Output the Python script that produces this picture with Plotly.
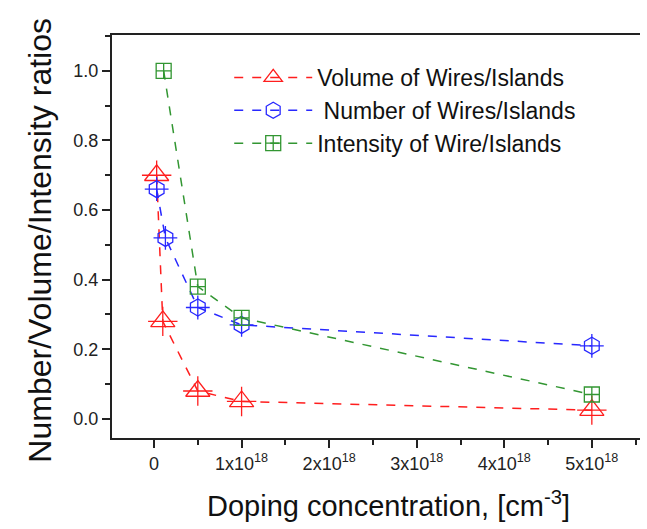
import plotly.graph_objects as go

x_vol = [0.03e18, 0.1e18, 0.5e18, 1e18, 5e18]
y_vol = [0.70, 0.28, 0.08, 0.05, 0.025]
x_num = [0.03e18, 0.13e18, 0.5e18, 1e18, 5e18]
y_num = [0.66, 0.52, 0.32, 0.27, 0.21]
x_int = [0.11e18, 0.5e18, 1e18, 5e18]
y_int = [1.0, 0.38, 0.29, 0.07]

x_tickvals = [0, 1e18, 2e18, 3e18, 4e18, 5e18]
x_ticktext = ["0", "1x10<sup>18</sup>", "2x10<sup>18</sup>", "3x10<sup>18</sup>",
              "4x10<sup>18</sup>", "5x10<sup>18</sup>"]
y_tickvals = [0.0, 0.2, 0.4, 0.6, 0.8, 1.0]
y_ticktext = ["0.0", "0.2", "0.4", "0.6", "0.8", "1.0"]

x_title = "Doping concentration, [cm<sup>-3</sup>]"
y_title = "Number/Volume/Intensity ratios"

RED = "rgb(255,30,30)"
BLUE = "rgb(40,40,255)"
GREEN = "rgb(50,150,50)"

fig = go.Figure()

def add_series(xs, ys, name, color, symbol, size, cross):
    fig.add_trace(go.Scatter(
        x=xs, y=ys, name=name, mode="lines+markers",
        line=dict(color=color, dash="dash", width=1.5),
        marker=dict(symbol=symbol, size=size, color=color, line=dict(color=color, width=1.3)),
    ))
    if cross:
        fig.add_trace(go.Scatter(
            x=xs, y=ys, mode="markers", showlegend=False, hoverinfo="skip",
            marker=dict(symbol="cross-thin-open", size=size, color=color,
                        line=dict(color=color, width=1.3)),
        ))

add_series(x_vol, y_vol, "Volume of Wires/Islands", RED, "triangle-up-open", 21, True)
add_series(x_num, y_num, " Number of Wires/Islands", BLUE, "hexagon-open", 17, True)
add_series(x_int, y_int, "Intensity of Wire/Islands", GREEN, "square-cross-open", 15, False)

font_family = "Liberation Sans, Arial, sans-serif"

fig.update_layout(
    width=647, height=529,
    margin=dict(l=112, r=7, t=35, b=91),
    plot_bgcolor="white", paper_bgcolor="white",
    font=dict(family=font_family, color="black"),
    legend=dict(x=0.222, y=0.948, xanchor="left", yanchor="top",
                font=dict(size=23, color="#111"), bgcolor="rgba(0,0,0,0)",
                itemwidth=78, tracegroupgap=0),
    xaxis=dict(
        range=[-0.48e18, 5.55e18],
        tickvals=x_tickvals, ticktext=x_ticktext,
        tickfont=dict(size=18, color="#222"),
        ticks="outside", ticklen=8, tickwidth=1.5, tickcolor="#222",
        minor=dict(dtick=0.5e18, tick0=0, ticks="outside", ticklen=5, tickcolor="#222", tickwidth=1.5),
        showline=True, linecolor="#222", linewidth=2, mirror=True,
        showgrid=False, zeroline=False,
    ),
    yaxis=dict(
        range=[-0.055, 1.103],
        tickvals=y_tickvals, ticktext=y_ticktext,
        tickfont=dict(size=18, color="#222"),
        ticks="outside", ticklen=8, tickwidth=1.5, tickcolor="#222",
        minor=dict(dtick=0.1, tick0=0, ticks="outside", ticklen=5, tickcolor="#222", tickwidth=1.5),
        showline=True, linecolor="#222", linewidth=2, mirror=False,
        showgrid=False, zeroline=False,
    ),
    annotations=[
        dict(text=x_title, xref="paper", yref="paper", x=0.523, y=-0.163,
             xanchor="center", yanchor="middle", showarrow=False,
             font=dict(size=29, color="#111")),
        dict(text=y_title, xref="paper", yref="paper", x=-0.138, y=0.49,
             xanchor="center", yanchor="middle", showarrow=False, textangle=-90,
             font=dict(size=32, color="#111")),
    ],
)

fig.write_html("out.html")
